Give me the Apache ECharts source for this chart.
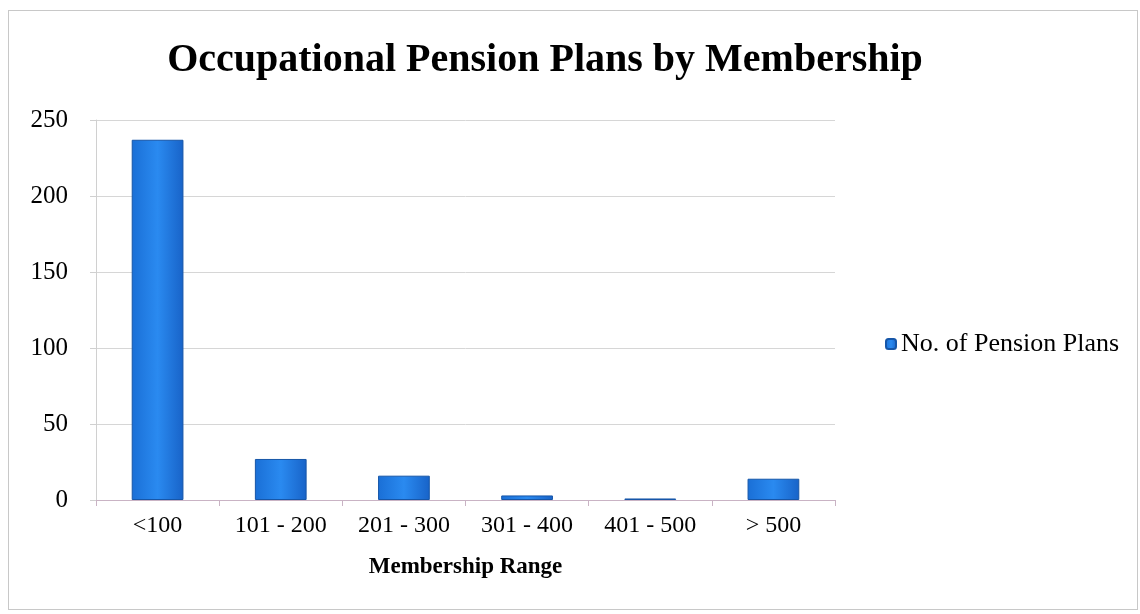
<!DOCTYPE html>
<html>
<head>
<meta charset="utf-8">
<script src="https://cdn.jsdelivr.net/npm/echarts@6/dist/echarts.min.js"></script>
<style>
  html, body { margin: 0; padding: 0; background: #fff; }
  #frame { position: absolute; left: 8px; top: 10px; width: 1128px; height: 598px; border: 1px solid #c8c8c8; }
  #chart { width: 1140px; height: 614px; }
</style>
</head>
<body>
<div id="frame"></div>
<div id="chart"></div>
<script>
const categories = ['<100', '101 - 200', '201 - 300', '301 - 400', '401 - 500', '> 500']
const plans = [237, 27, 16, 3, 1, 14]
const seriesName = 'No. of Pension Plans'

const font = '"Liberation Serif", "Times New Roman", serif'
const chart = echarts.init(document.getElementById('chart'))

chart.setOption({
  animation: false,
  title: {
    text: 'Occupational Pension Plans by Membership',
    left: 540,
    textAlign: 'center',
    top: 36,
    textStyle: { fontFamily: font, fontSize: 40, fontWeight: 'bold', color: '#000' }
  },
  legend: {
    data: [seriesName],
    left: 880,
    top: 326,
    itemWidth: 10,
    itemHeight: 10,
    itemGap: 5,
    textStyle: { fontFamily: font, fontSize: 26, color: '#000' }
  },
  grid: { left: 96, right: 305, top: 120, bottom: 114 },
  xAxis: {
    type: 'category',
    data: categories,
    name: 'Membership Range',
    nameLocation: 'middle',
    nameGap: 56,
    nameTextStyle: { fontFamily: font, fontSize: 23, fontWeight: 'bold', color: '#000' },
    axisLine: { lineStyle: { color: '#c9b3c4' } },
    axisTick: { show: true, length: 6, lineStyle: { color: '#c9b3c4' } },
    axisLabel: { fontFamily: font, fontSize: 24, color: '#000', margin: 14, interval: 0, hideOverlap: false }
  },
  yAxis: {
    type: 'value',
    min: 0,
    max: 250,
    interval: 50,
    axisLine: { show: true, lineStyle: { color: '#d0d0d0' } },
    axisTick: { show: true, length: 6, lineStyle: { color: '#d0d0d0' } },
    axisLabel: { fontFamily: font, fontSize: 25, color: '#000', margin: 28 },
    splitLine: { lineStyle: { color: '#d6d6d6' } }
  },
  series: [{
    name: seriesName,
    type: 'bar',
    data: plans,
    barCategoryGap: '58%',
    itemStyle: {
      color: new echarts.graphic.LinearGradient(0, 0, 1, 0, [
        { offset: 0, color: '#1a6fd6' },
        { offset: 0.5, color: '#2a8af0' },
        { offset: 1, color: '#1863c8' }
      ]),
      borderColor: '#1656a8',
      borderWidth: 1
    }
  }]
})
</script>
</body>
</html>
